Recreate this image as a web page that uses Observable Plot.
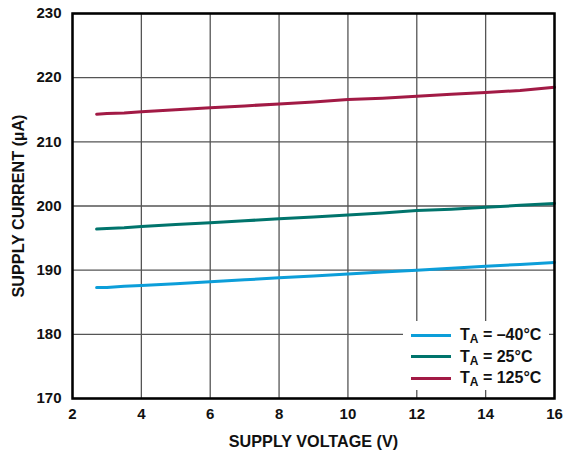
<!DOCTYPE html>
<html>
<head>
<meta charset="utf-8">
<script src="https://cdn.jsdelivr.net/npm/d3@7"></script>
<script src="https://cdn.jsdelivr.net/npm/@observablehq/plot@0.6"></script>
<style>
  html, body { margin: 0; padding: 0; background: #fff; }
  #wrap { position: relative; width: 563px; height: 456px; font-family: "Liberation Sans", Arial, sans-serif; }
  #legend { position: absolute; left: 403px; top: 321px; width: 146px; height: 69px; background: #fff; font-weight: bold; font-size: 16px; color: #111; }
  .row { position: absolute; left: 0; height: 20px; display: flex; align-items: center; }
  .sw { width: 40px; height: 3px; margin-left: 8px; margin-right: 9px; }
  sub { font-size: 12px; vertical-align: -3px; line-height: 0; }
  g[aria-label="x-axis label"], g[aria-label="y-axis label"] { font-size: 16.2px; }
</style>
</head>
<body>
<div id="wrap"></div>
<script>
const voltage = [2.7, 3, 3.5, 4, 5, 6, 7, 8, 9, 10, 11, 12, 13, 14, 15, 16];
const currentM40 = [187.3, 187.3, 187.5, 187.6, 187.9, 188.2, 188.5, 188.8, 189.1, 189.4, 189.7, 190.0, 190.3, 190.6, 190.9, 191.2];
const current25 = [196.4, 196.5, 196.6, 196.8, 197.1, 197.4, 197.7, 198.0, 198.3, 198.6, 198.9, 199.3, 199.5, 199.8, 200.1, 200.4];
const current125 = [214.3, 214.4, 214.5, 214.7, 215.0, 215.3, 215.6, 215.9, 216.2, 216.6, 216.8, 217.1, 217.4, 217.7, 218.0, 218.5];
const seriesNames = ["–40°C", "25°C", "125°C"];
const seriesColors = ["#0C9ED9", "#00746C", "#A21A45"];
const xTicks = [2, 4, 6, 8, 10, 12, 14, 16];
const yTicks = [170, 180, 190, 200, 210, 220, 230];

const allSeries = [currentM40, current25, current125];
const rows = [];
allSeries.forEach((arr, si) => arr.forEach((v, i) => rows.push({v: voltage[i], c: v, s: seriesNames[si]})));

const chart = Plot.plot({
  width: 563,
  height: 456,
  marginLeft: 72,
  marginTop: 13,
  marginRight: 9,
  marginBottom: 58,
  style: { fontFamily: "Liberation Sans, Arial, sans-serif", fontSize: "15px", fontWeight: "bold", color: "#111", background: "#fff" },
  x: { domain: [2, 16], ticks: xTicks, tickSize: 0, tickPadding: 10, label: "SUPPLY VOLTAGE (V)", labelAnchor: "center", labelArrow: "none", labelOffset: 48 },
  y: { domain: [170, 230], ticks: yTicks, tickSize: 0, tickPadding: 11, label: "SUPPLY CURRENT (µA)", labelAnchor: "center", labelArrow: "none", labelOffset: 60 },
  color: { domain: seriesNames, range: seriesColors },
  marks: [
    Plot.gridX(xTicks, { stroke: "#555", strokeOpacity: 1, strokeWidth: 1.3 }),
    Plot.gridY(yTicks, { stroke: "#555", strokeOpacity: 1, strokeWidth: 1.3 }),
    Plot.line(rows, { x: "v", y: "c", z: "s", stroke: "s", strokeWidth: 3 }),
    Plot.frame({ stroke: "#000", strokeWidth: 2.5 })
  ]
});
document.getElementById("wrap").appendChild(chart);

const legend = document.createElement("div");
legend.id = "legend";
seriesNames.forEach((n, i) => {
  const r = document.createElement("div");
  r.className = "row";
  r.style.top = (4 + i * 21.5) + "px";
  r.innerHTML = `<div class="sw" style="background:${seriesColors[i]}"></div><span>T<sub>A</sub> = ${n}</span>`;
  legend.appendChild(r);
});
document.getElementById("wrap").appendChild(legend);
</script>
</body>
</html>
